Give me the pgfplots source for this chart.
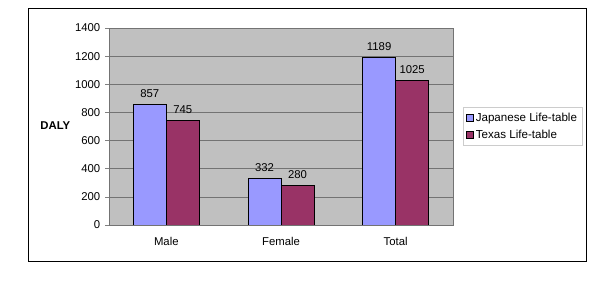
\documentclass[border=0pt]{standalone}
\usepackage{pgfplots}
\pgfplotsset{compat=1.18}
\usepackage{fontspec}
\setmainfont{Liberation Sans}
\definecolor{jap}{RGB}{153,153,255}
\definecolor{tex}{RGB}{153,51,102}
\definecolor{plotbg}{RGB}{192,192,192}
\begin{document}
\begin{tikzpicture}[x=1pt,y=1pt]
\fill[white] (0,0) rectangle (450,-213);
\draw[black, line width=0.75pt] (21,-6.75) rectangle (439.5,-196.5);
\node[font=\bfseries\fontsize{8.5}{10}\selectfont] at (41.5,-94.5) {DALY};
\begin{axis}[
  at={(81.75pt,-168.75pt)}, anchor=south west,
  scale only axis, width=258pt, height=147.75pt,
  ybar=0pt, bar width=24.75pt,
  xmin=-0.5, xmax=2.5, ymin=0, ymax=1400,
  xtick={0,1,2}, xticklabels={Male,Female,Total},
  extra x ticks={0.5,1.5}, extra x tick labels={},
  extra x tick style={major tick length=3pt, tick style={gray}},
  x tick style={draw=none},
  ytick={0,200,...,1400},
  ymajorgrids, grid style={gray!90!black, line width=0.4pt},
  y tick style={gray, line width=0.4pt}, major tick length=3pt,
  tick align=outside, xtick pos=bottom, ytick pos=left,
  axis background/.style={fill=plotbg},
  axis line style={gray!90!black, line width=0.5pt},
  ticklabel style={font=\fontsize{8.5}{10}\selectfont},
  /pgf/number format/assume math mode=true,
  /pgf/number format/set thousands separator={},
  xticklabel style={yshift=-3pt},
  nodes near coords,
  every node near coord/.append style={font=\fontsize{8.5}{10}\selectfont, yshift=1.5pt},
  legend style={at={(rel axis cs:1.029,0.599)}, anchor=north west,
    draw=gray!40, font=\fontsize{8.7}{10.5}\selectfont, inner sep=2pt, row sep=1pt,
    legend cell align=left},
  legend image code/.code={\draw[#1,draw=black,line width=0.4pt] (0pt,-2.5pt) rectangle (5pt,2.5pt);},
]
\addplot[fill=jap, draw=black, line width=0.5pt] coordinates {(0,857) (1,332) (2,1189)};
\addplot[fill=tex, draw=black, line width=0.5pt] coordinates {(0,745) (1,280) (2,1025)};
\legend{Japanese Life-table, Texas Life-table}
\end{axis}
\end{tikzpicture}
\end{document}
